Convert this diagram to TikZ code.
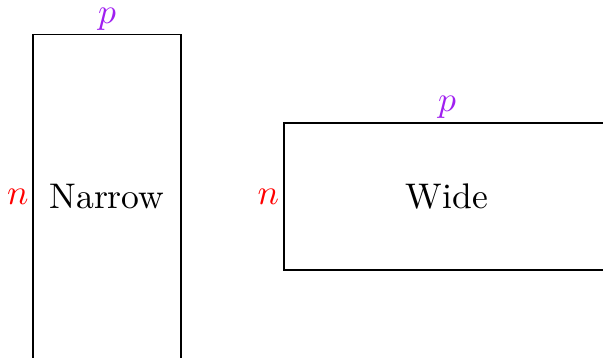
\documentclass[tikz,border=0pt]{standalone}
\definecolor{dimcol}{RGB}{160,32,240}
\begin{document}
\begin{tikzpicture}[x={(0.2809pt,0)}, y={(0,-0.2809pt)},
  shapebox/.style={draw, line width=0.45pt, inner sep=0pt, font=\normalsize},
  outline/.style={draw, line width=0.45pt},
  plabel/.style={text=dimcol, inner sep=1pt},
  nlabel/.style={text=red, inner sep=1pt}]
  \useasboundingbox (0,0) rectangle (603,357);
  \clip (0,0) rectangle (603,357);
  % tall rectangle (its lower edge lies below the frame)
  \node[inner sep=0pt, minimum width=41.3pt, minimum height=90.7pt] (narrow) at (107,196.5) {Narrow};
  \draw[outline] (narrow.north west) rectangle ([yshift=-20pt]narrow.south east);
  \node[plabel, anchor=south] (narrowp) at (narrow.north) {$p$};
  \node[nlabel, anchor=east] (narrown) at (narrow.west) {$n$};
  % flat rectangle
  \node[shapebox, minimum width=91.6pt, minimum height=41.3pt] (wide) at (447,196.5) {Wide};
  \node[plabel, anchor=south] (widep) at (wide.north) {$p$};
  \node[nlabel, anchor=east] (widen) at (wide.west) {$n$};
\end{tikzpicture}
\end{document}
